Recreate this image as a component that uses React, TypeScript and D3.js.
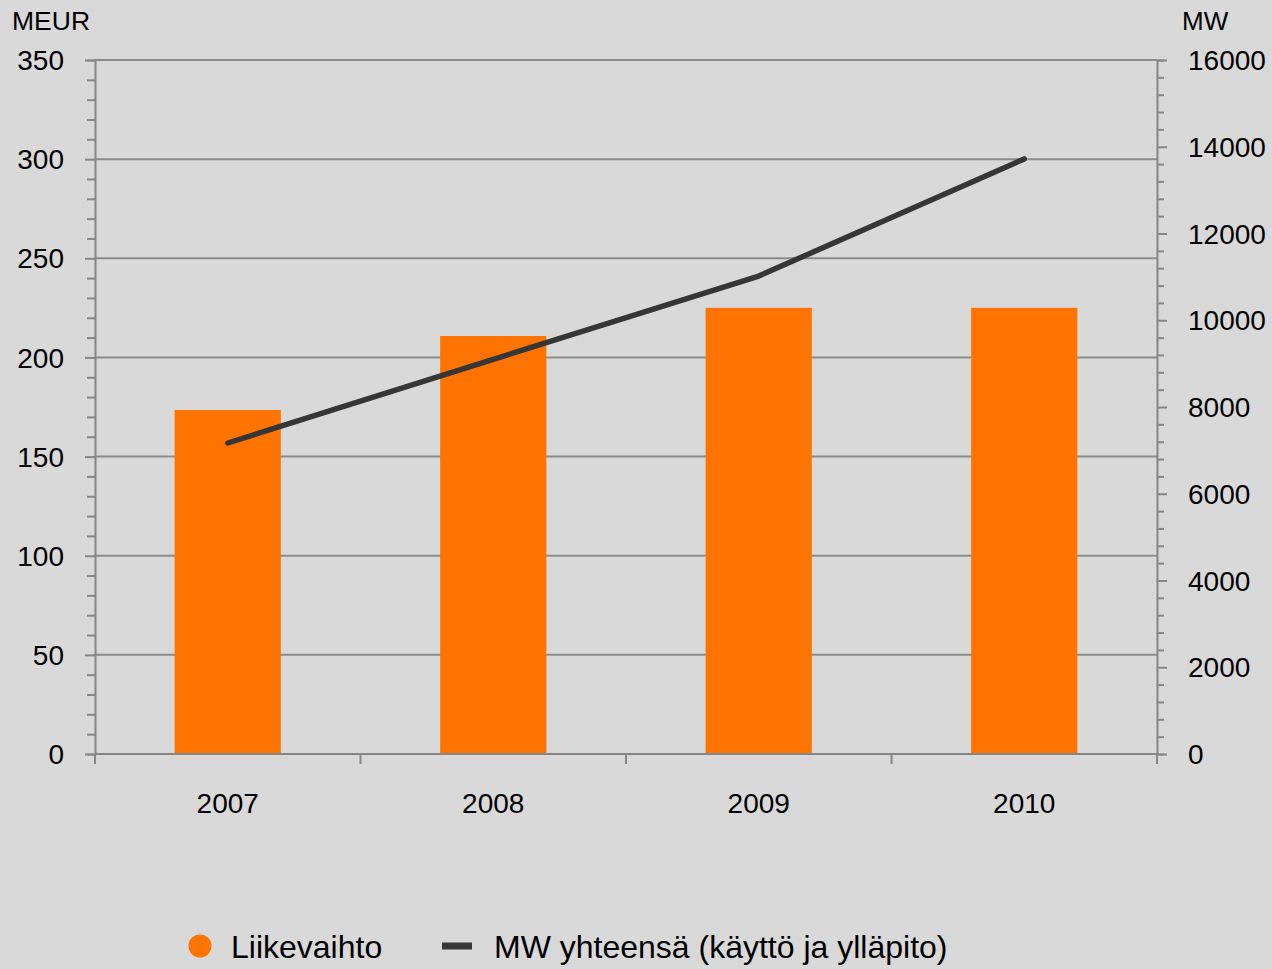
import React, { useEffect, useRef } from 'react';
import * as d3 from 'd3';

const years = ['2007', '2008', '2009', '2010'];
const liikevaihto = [173.5, 210.8, 225, 225];
const mwYhteensa = [7170, 9100, 11020, 13720];
const leftTicks = [0, 50, 100, 150, 200, 250, 300, 350];
const rightTicks = [0, 2000, 4000, 6000, 8000, 10000, 12000, 14000, 16000];

const W = 1272;
const H = 969;
const FONT = '"Liberation Sans", Arial, sans-serif';

export default function App() {
  const ref = useRef<SVGSVGElement>(null);

  useEffect(() => {
    const margin = { top: 60, right: 115, bottom: 215, left: 95 };
    const width = W - margin.left - margin.right;
    const height = H - margin.top - margin.bottom;

    const svg = d3.select(ref.current);
    svg.selectAll('*').remove();

    svg.append('rect').attr('width', W).attr('height', H).attr('fill', '#d9d9d9');

    const g = svg.append('g').attr('transform', `translate(${margin.left}, ${margin.top})`);

    const x = d3.scaleBand().domain(years).range([0, width]).paddingInner(0.6).paddingOuter(0.3);
    const yL = d3.scaleLinear().domain([0, 350]).range([height, 0]);
    const yR = d3.scaleLinear().domain([0, 16000]).range([height, 0]);

    const axisColor = '#868686';

    // gridlines
    g.append('g')
      .selectAll('line')
      .data(leftTicks)
      .enter()
      .append('line')
      .attr('x1', 0)
      .attr('x2', width)
      .attr('y1', d => yL(d))
      .attr('y2', d => yL(d))
      .attr('stroke', '#8c8c8c')
      .attr('stroke-width', 2);

    // bars
    g.append('g')
      .selectAll('rect')
      .data(years)
      .enter()
      .append('rect')
      .attr('x', d => x(d)!)
      .attr('y', (_, i) => yL(liikevaihto[i]))
      .attr('width', x.bandwidth())
      .attr('height', (_, i) => height - yL(liikevaihto[i]))
      .attr('fill', '#ff7400');

    // left axis
    const left = g.append('g')
      .call(d3.axisLeft(yL).tickValues(d3.range(0, 351, 10)).tickSize(8).tickFormat(() => ''));
    left.select('.domain').attr('stroke', axisColor).attr('stroke-width', 2);
    left.selectAll('.tick line').attr('stroke', axisColor).attr('stroke-width', 2)
      .attr('x2', (d: any) => (d % 50 === 0 ? -10 : -8));
    g.append('g')
      .selectAll('text')
      .data(leftTicks)
      .enter()
      .append('text')
      .attr('x', -31)
      .attr('y', d => yL(d))
      .attr('dy', '0.36em')
      .attr('text-anchor', 'end')
      .style('font-family', FONT)
      .style('font-size', '28px')
      .attr('fill', '#000')
      .text(d => d);

    // right axis
    const right = g.append('g')
      .attr('transform', `translate(${width}, 0)`)
      .call(d3.axisRight(yR).tickValues(d3.range(0, 16001, 400)).tickSize(7).tickFormat(() => ''));
    right.select('.domain').attr('stroke', axisColor).attr('stroke-width', 2);
    right.selectAll('.tick line').attr('stroke', axisColor).attr('stroke-width', 2)
      .attr('x2', (d: any) => (d % 2000 === 0 ? 10 : 7));
    g.append('g')
      .selectAll('text')
      .data(rightTicks)
      .enter()
      .append('text')
      .attr('x', width + 31)
      .attr('y', d => yR(d))
      .attr('dy', '0.36em')
      .attr('text-anchor', 'start')
      .style('font-family', FONT)
      .style('font-size', '28px')
      .attr('fill', '#000')
      .text(d => d);

    // bottom axis
    const bounds = years.map(yv => x(yv)! - x.step() * 0.3).concat([width]);
    g.append('line')
      .attr('x1', 0).attr('x2', width)
      .attr('y1', height).attr('y2', height)
      .attr('stroke', axisColor).attr('stroke-width', 2);
    g.append('g')
      .selectAll('line')
      .data(bounds)
      .enter()
      .append('line')
      .attr('x1', d => d).attr('x2', d => d)
      .attr('y1', height).attr('y2', height + 10)
      .attr('stroke', axisColor).attr('stroke-width', 2);
    g.append('g')
      .selectAll('text')
      .data(years)
      .enter()
      .append('text')
      .attr('x', d => x(d)! + x.bandwidth() / 2)
      .attr('y', height + 59)
      .attr('text-anchor', 'middle')
      .style('font-family', FONT)
      .style('font-size', '28px')
      .attr('fill', '#000')
      .text(d => d);

    // line
    const line = d3.line<number>()
      .x((_, i) => x(years[i])! + x.bandwidth() / 2)
      .y(d => yR(d));
    g.append('path')
      .datum(mwYhteensa)
      .attr('d', line)
      .attr('fill', 'none')
      .attr('stroke', '#363636')
      .attr('stroke-width', 5.5)
      .attr('stroke-linecap', 'round')
      .attr('stroke-linejoin', 'round');

    // axis titles
    svg.append('text').attr('x', 12).attr('y', 30)
      .style('font-family', FONT).style('font-size', '26.5px').text('MEUR');
    svg.append('text').attr('x', 1182).attr('y', 30)
      .style('font-family', FONT).style('font-size', '26px').text('MW');

    // legend
    const leg = svg.append('g').attr('transform', 'translate(0, 946)');
    leg.append('circle').attr('cx', 200).attr('cy', 0).attr('r', 11.5).attr('fill', '#ff7400');
    leg.append('text').attr('x', 231).attr('y', 0).attr('dy', '0.36em')
      .style('font-family', FONT).style('font-size', '32px').text('Liikevaihto');
    leg.append('line').attr('x1', 442).attr('x2', 472).attr('y1', 0).attr('y2', 0)
      .attr('stroke', '#363636').attr('stroke-width', 7);
    leg.append('text').attr('x', 494).attr('y', 0).attr('dy', '0.36em')
      .style('font-family', FONT).style('font-size', '32px').text('MW yhteensä (käyttö ja ylläpito)');
  }, []);

  return (
    <svg
      ref={ref}
      width={W}
      height={H}
      style={{ position: 'absolute', left: 0, top: 0, display: 'block' }}
    />
  );
}
